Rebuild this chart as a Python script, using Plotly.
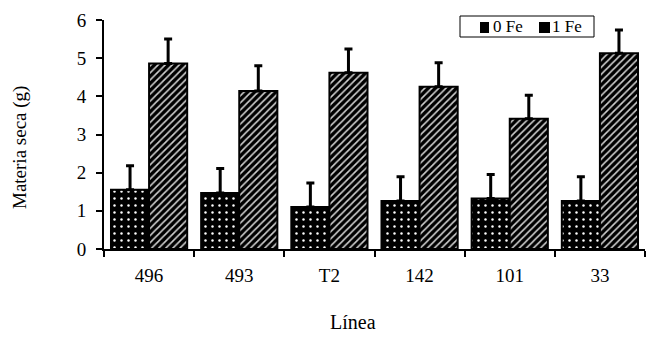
import plotly.graph_objects as go

categories = ["496", "493", "T2", "142", "101", "33"]
fe0_values = [1.55, 1.47, 1.10, 1.26, 1.32, 1.26]
fe0_errors = [0.63, 0.64, 0.63, 0.63, 0.63, 0.63]
fe1_values = [4.86, 4.14, 4.62, 4.25, 3.41, 5.13]
fe1_errors = [0.64, 0.66, 0.62, 0.63, 0.62, 0.61]
y_ticks = [0, 1, 2, 3, 4, 5, 6]
series_names = ["0 Fe", "1 Fe"]

font = "Liberation Serif, Times New Roman, serif"

# page offset from the default 8px body margin
OFF = 8
W, H = 659 - OFF, 339 - OFF
ML, MR, MT, MB = 104 - OFF, 14, 20 - OFF, 90
PW = W - ML - MR
PH = H - MT - MB


def px_x(p):  # page pixel -> paper x
    return (p - OFF - ML) / PW


def px_y(p):  # page pixel -> paper y
    return (H - MB - (p - OFF)) / PH


fig = go.Figure()
fig.add_trace(go.Bar(
    name=series_names[0], x=categories, y=fe0_values,
    marker=dict(color="black", line=dict(color="black", width=2),
                pattern=dict(shape=".", fgcolor="white", bgcolor="black",
                             size=7, solidity=0.1, fillmode="replace")),
    error_y=dict(type="data", array=fe0_errors, arrayminus=[0]*len(fe0_errors),
                 symmetric=False, color="black", thickness=3, width=4),
))
fig.add_trace(go.Bar(
    name=series_names[1], x=categories, y=fe1_values,
    marker=dict(color="black", line=dict(color="black", width=2),
                pattern=dict(shape="/", fgcolor="#d0d0d0", bgcolor="black",
                             size=5, solidity=0.32, fillmode="replace")),
    error_y=dict(type="data", array=fe1_errors, arrayminus=[0]*len(fe1_errors),
                 symmetric=False, color="black", thickness=3, width=4),
))

shapes = [
    dict(type="rect", xref="paper", yref="paper", x0=px_x(460), x1=px_x(594),
         y0=px_y(37), y1=px_y(16), line=dict(color="black", width=1),
         fillcolor="white", layer="above"),
    dict(type="rect", xref="paper", yref="paper", x0=px_x(480), x1=px_x(489),
         y0=px_y(33), y1=px_y(22), line=dict(width=0), fillcolor="black", layer="above"),
    dict(type="rect", xref="paper", yref="paper", x0=px_x(539), x1=px_x(550),
         y0=px_y(33), y1=px_y(22), line=dict(width=0), fillcolor="black", layer="above"),
]

annotations = [
    dict(text=series_names[0], x=px_x(491), y=px_y(27), xref="paper", yref="paper",
         showarrow=False, xanchor="left", yanchor="middle",
         font=dict(family=font, size=17)),
    dict(text=series_names[1], x=px_x(550), y=px_y(27), xref="paper", yref="paper",
         showarrow=False, xanchor="left", yanchor="middle",
         font=dict(family=font, size=17)),
    dict(text="Línea", x=px_x(353), y=px_y(322), xref="paper", yref="paper",
         showarrow=False, font=dict(family=font, size=20),
         xanchor="center", yanchor="middle"),
    dict(text="Materia seca (g)", x=px_x(20), y=px_y(148), xref="paper", yref="paper",
         showarrow=False, textangle=-90, font=dict(family=font, size=19),
         xanchor="center", yanchor="middle"),
]

fig.update_layout(
    width=W, height=H,
    margin=dict(l=ML, r=MR, t=MT, b=MB, autoexpand=False),
    plot_bgcolor="white", paper_bgcolor="white",
    barmode="group", bargap=0.155, bargroupgap=0,
    font=dict(family=font, size=19, color="black"),
    showlegend=False,
    xaxis=dict(showline=True, linecolor="black", linewidth=2, ticks="outside",
               tickson="boundaries", ticklen=6, tickwidth=2, tickcolor="black",
               showgrid=False, tickfont=dict(family=font, size=19),
               ticklabelstandoff=8),
    yaxis=dict(range=[0, 6], tickvals=y_ticks, showline=True, linecolor="black",
               linewidth=2, ticks="outside", ticklen=6, tickwidth=2, tickcolor="black",
               showgrid=False, zeroline=False, tickfont=dict(family=font, size=19),
               ticklabelstandoff=6),
    shapes=shapes,
    annotations=annotations,
)

fig.write_html("out.html")
